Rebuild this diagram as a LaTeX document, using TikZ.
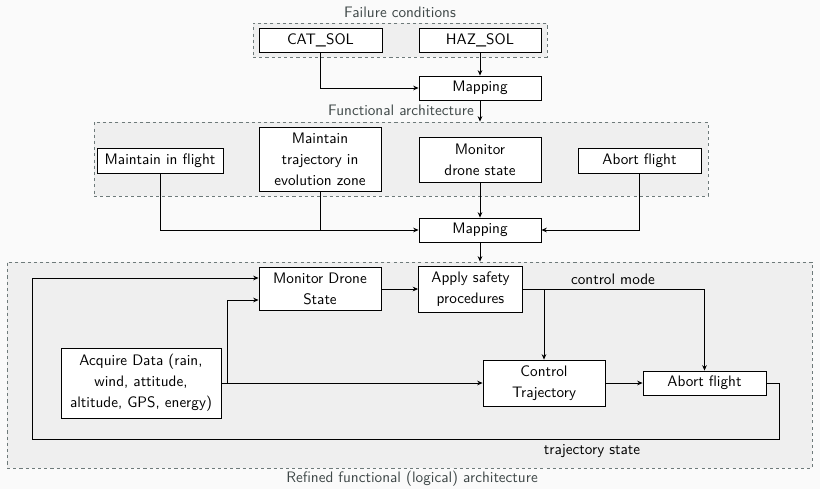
\documentclass[tikz,border=0pt]{standalone}
\usetikzlibrary{arrows.meta,calc}
\definecolor{pagebg}{HTML}{FAFAFA}
\definecolor{grpfill}{HTML}{EFEFEF}
\definecolor{dashgray}{HTML}{6E7A7A}
\definecolor{labelgray}{HTML}{3F4848}
\begin{document}
\begin{tikzpicture}[x=0.645pt,y=-0.645pt,
  font=\sffamily\fontsize{9.8}{13.5}\selectfont,
  sz/.style 2 args={minimum width=#1*0.645pt, minimum height=#2*0.645pt},
  box/.style={draw=black, line width=0.55pt, fill=white, align=center, inner sep=0pt},
  grp/.style={draw=dashgray, dash pattern=on 2pt off 2pt, fill=grpfill, line width=0.55pt, inner sep=0pt},
  glabel/.style={text=labelgray},
  wire/.style={line width=0.5pt},
  conn/.style={wire, -{Stealth[length=3.5pt,width=3pt]}},
]
% page background and bounding box
\fill[pagebg] (0,0) rectangle (820,489);
\useasboundingbox (0,0) rectangle (820,489);

% failure conditions
\node[grp, sz={294}{34}] (fgrp) at (400,40) {};
\node[glabel] (flab) at (400,12) {Failure conditions};
\node[box, sz={123}{24}] (cat) at (320.5,40) {CAT\_SOL};
\node[box, sz={122}{24}] (haz) at (480,40) {HAZ\_SOL};
\node[box, sz={122}{24}] (map1) at (480,88) {Mapping};

% functional architecture
\node[grp, sz={614}{74}] (agrp) at (401,159) {};
\node[glabel] (alab) at (401,110) {Functional architecture};
\node[box, sz={126}{25}] (fmaint) at (160,160.5) {Maintain in flight};
\node[box, sz={122}{64}] (ftraj) at (320,159) {Maintain\\trajectory in\\evolution zone};
\node[box, sz={122}{45}] (fmon) at (480,159.5) {Monitor\\drone state};
\node[box, sz={123}{25}] (fabort) at (639.5,160.5) {Abort flight};
\node[box, sz={122}{24}] (map2) at (480,230) {Mapping};

% refined functional architecture
\node[grp, sz={805}{206}] (rgrp) at (409.5,365) {};
\node[glabel] (rlab) at (412,479) {Refined functional (logical) architecture};
\node[box, sz={122}{43}] (rmon) at (320,289) {Monitor Drone\\State};
\node[box, sz={104}{46}] (rsafe) at (470.5,289) {Apply safety\\procedures};
\node[box, sz={122}{46}] (rctrl) at (544,383) {Control\\Trajectory};
\node[box, sz={123}{24}] (rabort) at (704.5,383) {Abort flight};
\node[box, sz={160}{70}] (racq) at (141,383) {Acquire Data (rain,\\wind, attitude,\\altitude, GPS, energy)};

% top-level connectors
\draw[conn] (cat.south) |- (map1.west);
\draw[conn] (haz.south) -- (map1.north);
\draw[conn] (map1.south) -- (map1.south |- agrp.north);
\draw[conn] (fmaint.south) |- (map2.west);
\draw[wire] (ftraj.south) -- (ftraj.south |- map2.west);
\draw[conn] (fmon.south) -- (map2.north);
\draw[conn] (fabort.south) |- (map2.east);
\draw[conn] (map2.south) -- (map2.south |- rgrp.north);

% refined connectors
\coordinate (monup) at ($(rmon.west)+(0,-11)$);
\coordinate (mondn) at ($(rmon.west)+(0,11)$);
\coordinate (acqbr) at ($(racq.east)+(6,0)$);
\coordinate (fbr) at (779,439);
\coordinate (fbl) at (32,439);
\draw[conn] (rmon.east) -- (rsafe.west);
\draw[conn] (rsafe.east) -| (rctrl.north);
\draw[conn] (rsafe.east) -| (rabort.north);
\node (cmode) at (613,279) {control mode};
\draw[conn] (racq.east) -- (rctrl.west);
\draw[conn] (acqbr) |- (mondn);
\draw[conn] (rctrl.east) -- (rabort.west);
\draw[conn] (rabort.east) -| (fbr) -- (fbl) |- (monup);
\node (tstate) at (592,451) {trajectory state};
\end{tikzpicture}
\end{document}
